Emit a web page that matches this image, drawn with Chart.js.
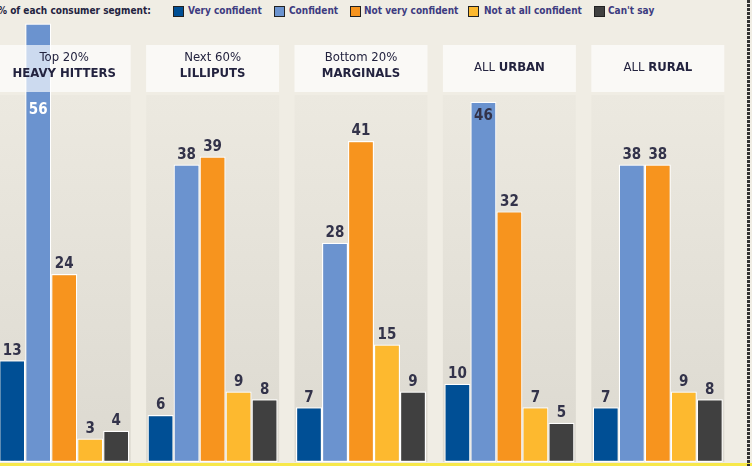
<!DOCTYPE html>
<html>
<head>
<meta charset="utf-8">
<script src="https://cdn.jsdelivr.net/npm/chart.js@4.4.1/dist/chart.umd.min.js"></script>
<style>
  html, body { margin: 0; padding: 0; }
  body { width: 752px; height: 466px; background: #f0ede4; position: relative; overflow: hidden;
         font-family: "Liberation Sans Narrow", "DejaVu Sans Condensed", "Arial Narrow", sans-serif; }
  #wrap { position: absolute; left: -10px; top: 0; width: 742px; height: 462px; }
  .lg { position: absolute; top: 4px; font-size: 10px; font-weight: bold; color: #3d3b80; white-space: nowrap; line-height: 14px; }
  .lg.head { color: #23233f; }
  .sw { position: absolute; top: 6px; width: 9px; height: 9px; border: 1px solid #222; }
  #yellow { position: absolute; left: 0; top: 463px; width: 752px; height: 3px; background: #f7e84a; }
  #edge { position: absolute; left: 747px; top: 0; width: 3px; height: 466px;
          background: repeating-linear-gradient(to bottom, #333 0 3px, transparent 3px 4px); }
</style>
</head>
<body>
<div class="lg head" style="left:-2px">% of each consumer segment:</div>
<div id="legend"></div>
<div id="wrap"><canvas id="myChart" width="742" height="462"></canvas></div>
<div id="yellow"></div>
<div id="edge"></div>
<script>
const groupTop = ['Top 20%', 'Next 60%', 'Bottom 20%', 'ALL', 'ALL'];
const groupName = ['HEAVY HITTERS', 'LILLIPUTS', 'MARGINALS', 'URBAN', 'RURAL'];
const seriesNames = ['Very confident', 'Confident', 'Not very confident', 'Not at all confident', "Can't say"];
const veryConfident = [13, 6, 7, 10, 7];
const confident = [56, 38, 28, 46, 38];
const notVeryConfident = [24, 39, 41, 32, 38];
const notAtAllConfident = [3, 9, 15, 7, 9];
const cantSay = [4, 8, 9, 5, 8];

const colors = ['#004f95', '#6b93cf', '#f7941e', '#fdb92f', '#404040'];
const legendX = [[173, 188], [274, 289], [350, 364], [468, 484], [594, 608]];

// legend
const legend = document.querySelector('#legend');
seriesNames.forEach((name, i) => {
  const sw = document.createElement('div');
  sw.className = 'sw';
  sw.style.left = legendX[i][0] + 'px';
  sw.style.background = colors[i];
  legend.appendChild(sw);
  const t = document.createElement('div');
  t.className = 'lg';
  t.style.left = legendX[i][1] + 'px';
  t.textContent = name;
  legend.appendChild(t);
});

const FONT = '"Liberation Sans Narrow", "DejaVu Sans Condensed", "Arial Narrow", sans-serif';

function panelBox(chart, i) {
  const x = chart.scales.x.getPixelForValue(i);
  return { left: x - 66.5, right: x + 66.5, cx: x };
}

const panels = {
  id: 'panels',
  beforeDatasetsDraw(chart) {
    const ctx = chart.ctx;
    ctx.save();
    const g = ctx.createLinearGradient(0, 95, 0, 462);
    g.addColorStop(0, '#ece9e0');
    g.addColorStop(1, '#dcd9d0');
    groupName.forEach((n, i) => {
      const p = panelBox(chart, i);
      ctx.fillStyle = g;
      ctx.fillRect(p.left, 95, p.right - p.left, 367);
    });
    ctx.restore();
  },
  afterDatasetsDraw(chart) {
    const ctx = chart.ctx;
    ctx.save();
    ctx.textAlign = 'center';
    ctx.textBaseline = 'middle';
    groupName.forEach((n, i) => {
      const p = panelBox(chart, i);
      ctx.fillStyle = 'rgba(255,255,255,0.66)';
      ctx.fillRect(p.left, 45, p.right - p.left, 47);
      ctx.fillStyle = '#23233f';
      if (groupTop[i] === 'ALL') {
        ctx.font = '13px ' + FONT;
        const a = 'ALL ';
        ctx.font = 'bold 13px ' + FONT;
        const wb = ctx.measureText(n).width;
        ctx.font = '13px ' + FONT;
        const wa = ctx.measureText(a).width;
        const start = p.cx - (wa + wb) / 2;
        ctx.textAlign = 'left';
        ctx.fillText(a, start, 68);
        ctx.font = 'bold 13px ' + FONT;
        ctx.fillText(n, start + wa, 68);
        ctx.textAlign = 'center';
      } else {
        ctx.font = '13px ' + FONT;
        ctx.fillText(groupTop[i], p.cx, 58);
        ctx.font = 'bold 13px ' + FONT;
        ctx.fillText(n, p.cx, 74);
      }
    });
    // value labels
    ctx.font = 'bold 15px ' + FONT;
    chart.data.datasets.forEach((ds, di) => {
      chart.getDatasetMeta(di).data.forEach((bar, j) => {
        const v = ds.data[j];
        let y = bar.y - 2;
        if (y - 14 < 96) {
          ctx.textBaseline = 'top';
          y = Math.max(bar.y + 7, 103);
          ctx.fillStyle = bar.y < 45 ? '#ffffff' : '#33334a';
        } else {
          ctx.textBaseline = 'bottom';
          ctx.fillStyle = '#33334a';
        }
        ctx.fillText(String(v), bar.x, y);
      });
    });
    ctx.restore();
  }
};

const seriesData = [veryConfident, confident, notVeryConfident, notAtAllConfident, cantSay];

new Chart(document.querySelector('#myChart'), {
  type: 'bar',
  data: {
    labels: groupName,
    datasets: seriesData.map((d, i) => ({
      label: seriesNames[i],
      data: d,
      backgroundColor: colors[i],
      borderColor: '#ffffff',
      borderWidth: 1.2,
      borderSkipped: false,
      categoryPercentage: 0.876,
      barPercentage: 1
    }))
  },
  options: {
    responsive: false,
    animation: false,
    layout: { padding: 0 },
    plugins: { legend: { display: false }, tooltip: { enabled: false } },
    scales: {
      x: { display: false },
      y: { display: false, min: 0, max: 59 }
    }
  },
  plugins: [panels]
});
</script>
</body>
</html>
